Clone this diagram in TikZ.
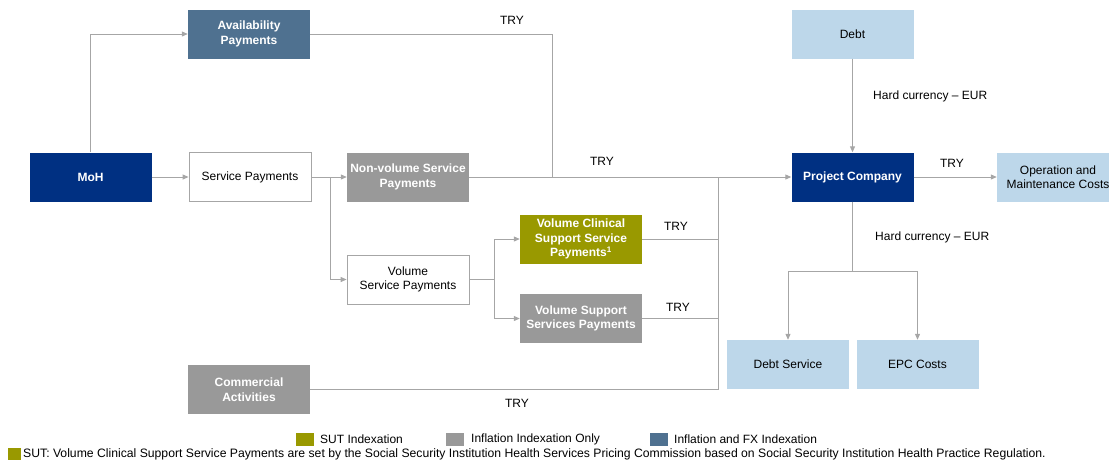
\documentclass[tikz,border=0pt]{standalone}
\usepackage{fontspec}
\setmainfont{Liberation Sans}
\usetikzlibrary{arrows.meta}

\definecolor{azul}{RGB}{0,48,130}
\definecolor{acero}{RGB}{79,113,144}
\definecolor{gris}{RGB}{153,153,153}
\definecolor{oliva}{RGB}{153,153,0}
\definecolor{celeste}{RGB}{189,215,234}
\definecolor{linea}{RGB}{166,166,166}

\begin{document}
\begin{tikzpicture}[x=1pt,y=-1pt,
        font=\fontsize{12}{14.5}\selectfont,
        caja/.style={minimum width=122pt,minimum height=49pt,inner sep=1pt,align=center},
        negrita/.style={caja,text=white,font=\fontsize{12}{14.5}\selectfont\bfseries},
        blanca/.style={caja,draw=linea,line width=0.8pt,fill=white},
        clara/.style={caja,fill=celeste},
        conector/.style={draw=linea,line width=1pt},
        flecha/.style={conector,-{Triangle[length=6pt,width=5pt]}},
        muestra/.style={minimum width=18pt,minimum height=13pt,inner sep=0pt}
    ]
        % margins of the picture
        \useasboundingbox (0,0) rectangle (1109,464);
        % Payers and payment streams
        \node[negrita,fill=azul] (moh) at (90.5,177) {MoH};
        \node[negrita,fill=acero] (disp) at (249,34) {Availability\\Payments};
        \node[blanca] (serv) at (250,177) {Service Payments};
        \node[negrita,fill=gris] (novol) at (408,177) {Non-volume Service\\Payments};
        \node[blanca] (vol) at (408,279.5) {Volume\\Service Payments};
        \node[negrita,fill=oliva] (clin) at (581,239) {Volume Clinical\\Support Service\\Payments\textsuperscript{1}};
        \node[negrita,fill=gris] (sopo) at (581,318.5) {Volume Support\\Services Payments};
        \node[negrita,fill=gris] (com) at (249,389.5) {Commercial\\Activities};
        % Project side
        \node[negrita,fill=azul] (pc) at (852.5,177) {Project Company};
        \node[clara] (deuda) at (852.5,34) {Debt};
        \node[clara] (om) at (1058,177) {Operation and\\Maintenance Costs};
        \node[clara] (sdeuda) at (788,364.5) {Debt Service};
        \node[clara] (epc) at (917.5,364.5) {EPC Costs};
        % Junction points
        \coordinate (r1) at (330,177);
        \coordinate (r2) at (494,279.5);
        \coordinate (u) at (718,177);
        \coordinate (d) at (552,177);
        \coordinate (b) at (852.5,271);
        % Connectors
        \draw[flecha] (moh.north) |- (disp.west);
        \draw[flecha] (moh) -- (serv);
        \draw[conector] (serv.east) -- (r1);
        \draw[flecha] (r1) -- (novol);
        \draw[flecha] (r1) |- (vol.west);
        \draw[conector] (vol.east) -- (r2);
        \draw[flecha] (r2) |- (clin.west);
        \draw[flecha] (r2) |- (sopo.west);
        \draw[conector] (clin.east) -- (clin.east -| u);
        \draw[conector] (sopo.east) -- (sopo.east -| u);
        \draw[conector] (com.east) -| (u);
        \draw[conector] (disp.east) -| (d);
        \draw[flecha] (novol) -- (pc);
        \draw[flecha] (deuda) -- (pc);
        \draw[flecha] (pc) -- (om);
        \draw[conector] (pc.south) -- (b);
        \draw[flecha] (b) -| (sdeuda.north);
        \draw[flecha] (b) -| (epc.north);
        % Currency labels
        \node (t1) at (512,20) {TRY};
        \node (t2) at (602,161) {TRY};
        \node (t3) at (952,163) {TRY};
        \node (t4) at (676,226) {TRY};
        \node (t5) at (678,307) {TRY};
        \node (t6) at (517,403) {TRY};
        \node[anchor=west,inner sep=0pt] (h1) at (873,96) {Hard currency -- EUR};
        \node[anchor=west,inner sep=0pt] (h2) at (875,237) {Hard currency -- EUR};
        % Legend
        \node[muestra,fill=oliva] (l1) at (305,439.5) {};
        \node[anchor=west,inner sep=0pt] (e1) at (320,439.5) {SUT Indexation};
        \node[muestra,fill=gris] (l2) at (455,439.5) {};
        \node[anchor=west,inner sep=0pt] (e2) at (471,439.5) {Inflation Indexation Only};
        \node[muestra,fill=acero] (l3) at (659,439.5) {};
        \node[anchor=west,inner sep=0pt] (e3) at (674,439.5) {Inflation and FX Indexation};
        \node[minimum width=13pt,minimum height=12pt,inner sep=0pt,fill=oliva] (l4) at (14.5,454) {};
        \node[anchor=west,inner sep=0pt,font=\fontsize{12.2}{13}\selectfont] (nota) at (23,454) {SUT: Volume Clinical Support Service Payments are set by the Social Security Institution Health Services Pricing Commission based on Social Security Institution Health Practice Regulation.};
    \end{tikzpicture}
\end{document}
